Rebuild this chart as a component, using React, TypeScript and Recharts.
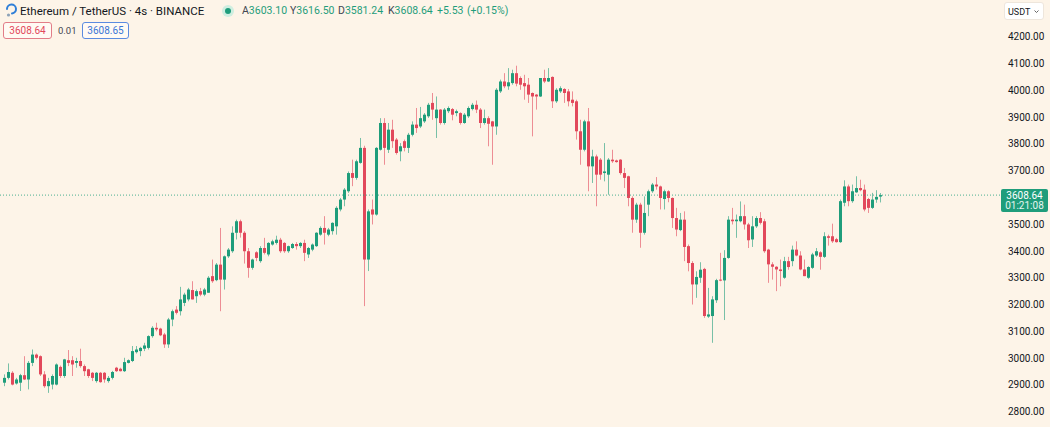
import React from "react";
import { ComposedChart, Bar, XAxis, YAxis, ReferenceLine } from "recharts";

// ---- data (open, high, low, close) ----
const SEG1: number[][] = [
  [2908, 2939, 2895, 2926], [2926, 2980, 2920, 2948], [2945, 2951, 2898, 2901], [2905, 2926, 2901, 2920],
  [2908, 2941, 2877, 2936], [2936, 3007, 2918, 2920], [2920, 2989, 2883, 2982], [2982, 3032, 2970, 3013],
  [3013, 3017, 2995, 3001], [3007, 3010, 2933, 2939], [2939, 2951, 2889, 2895], [2895, 2926, 2870, 2914],
  [2901, 2939, 2883, 2933], [2901, 2980, 2898, 2976], [2967, 2972, 2926, 2933], [2933, 2997, 2926, 2995],
  [2992, 3030, 2970, 2982], [2992, 3007, 2933, 2976], [2982, 3001, 2964, 2989], [2989, 3035, 2964, 2970],
  [2970, 2976, 2933, 2951], [2958, 2960, 2926, 2933], [2945, 2948, 2914, 2926], [2914, 2948, 2908, 2945],
  [2945, 2948, 2908, 2910], [2945, 2948, 2908, 2920], [2914, 2933, 2908, 2926], [2926, 2952, 2920, 2948],
  [2964, 2967, 2948, 2951], [2960, 2964, 2950, 2951], [2951, 3001, 2948, 2985], [2982, 2995, 2980, 2992],
  [2989, 3045, 2985, 3026], [3022, 3045, 3017, 3032], [3026, 3042, 3007, 3038], [3035, 3057, 3026, 3047],
  [3038, 3085, 3032, 3082], [3082, 3119, 3076, 3113], [3113, 3132, 3100, 3107], [3110, 3113, 3082, 3085],
  [3088, 3094, 3038, 3051], [3051, 3150, 3038, 3144], [3144, 3181, 3119, 3175], [3181, 3194, 3163, 3169],
  [3175, 3266, 3159, 3219], [3206, 3244, 3194, 3237], [3219, 3262, 3212, 3256], [3254, 3287, 3219, 3219],
  [3231, 3256, 3206, 3250], [3250, 3262, 3231, 3237], [3237, 3262, 3231, 3256], [3244, 3306, 3244, 3300],
  [3306, 3368, 3281, 3287], [3291, 3355, 3287, 3349], [3349, 3486, 3175, 3293], [3293, 3383, 3256, 3380],
];
const SEG2: number[][] = [
  [3380, 3411, 3374, 3405], [3399, 3492, 3393, 3468], [3468, 3517, 3443, 3511], [3511, 3517, 3450, 3468],
  [3468, 3474, 3353, 3399], [3399, 3411, 3300, 3337], [3337, 3371, 3330, 3368], [3395, 3399, 3362, 3374],
  [3362, 3418, 3356, 3411], [3411, 3449, 3387, 3393], [3387, 3433, 3380, 3430], [3424, 3442, 3420, 3436],
  [3430, 3457, 3424, 3442], [3442, 3449, 3393, 3399], [3430, 3433, 3393, 3399], [3399, 3420, 3393, 3418],
  [3411, 3430, 3408, 3426], [3426, 3433, 3405, 3418], [3418, 3433, 3411, 3430], [3430, 3442, 3362, 3393],
  [3387, 3415, 3374, 3411], [3405, 3428, 3399, 3424], [3418, 3470, 3415, 3468], [3461, 3492, 3457, 3486],
  [3486, 3530, 3424, 3468], [3461, 3486, 3455, 3480], [3474, 3507, 3461, 3505], [3492, 3567, 3461, 3561],
  [3555, 3598, 3548, 3592], [3592, 3635, 3567, 3629], [3623, 3697, 3617, 3691], [3691, 3741, 3642, 3673],
  [3673, 3741, 3666, 3735], [3729, 3822, 3726, 3785], [3785, 3793, 3194, 3368], [3368, 3555, 3325, 3548],
  [3555, 3592, 3499, 3536], [3536, 3788, 3532, 3785], [3778, 3896, 3775, 3878], [3878, 3896, 3722, 3785],
  [3778, 3878, 3766, 3853], [3853, 3890, 3785, 3810], [3816, 3822, 3760, 3766], [3772, 3803, 3735, 3791],
  [3810, 3816, 3772, 3785], [3785, 3841, 3766, 3834], [3834, 3884, 3828, 3872], [3872, 3934, 3841, 3859],
  [3865, 3938, 3859, 3896], [3884, 3915, 3878, 3909], [3903, 3953, 3897, 3946], [3953, 3990, 3890, 3928],
  [3896, 3977, 3822, 3928], [3928, 3930, 3872, 3878],
];
const SEG3: number[][] = [
  [3878, 3934, 3872, 3928], [3922, 3940, 3915, 3934], [3930, 3934, 3888, 3909], [3915, 3928, 3903, 3922],
  [3915, 3918, 3872, 3878], [3878, 3915, 3875, 3909], [3903, 3940, 3897, 3934], [3930, 3953, 3925, 3946],
  [3946, 3962, 3915, 3928], [3928, 3934, 3859, 3878], [3878, 3928, 3872, 3896], [3896, 3903, 3791, 3875],
  [3884, 3886, 3722, 3865], [3865, 4008, 3834, 4002], [3996, 4040, 3990, 4033], [4033, 4064, 4008, 4015],
  [4015, 4083, 4002, 4030], [4027, 4077, 4021, 4064], [4064, 4092, 4015, 4025], [4046, 4052, 4002, 4021],
  [4027, 4058, 3965, 4015], [4021, 4046, 3953, 3984], [3990, 3992, 3828, 3977], [3984, 3986, 3928, 3977],
  [3977, 4046, 3975, 4046], [4046, 4077, 4027, 4033], [4033, 4083, 4031, 4046], [4050, 4052, 3934, 3959],
  [3959, 4008, 3953, 4002], [3996, 4015, 3990, 4008], [4005, 4008, 3953, 3990], [3996, 4005, 3940, 3959],
  [3965, 3996, 3940, 3953], [3959, 3965, 3816, 3847], [3847, 3890, 3722, 3778], [3778, 3890, 3772, 3884],
  [3884, 3934, 3623, 3716], [3716, 3778, 3654, 3753], [3753, 3760, 3567, 3685], [3741, 3747, 3666, 3685],
  [3691, 3803, 3660, 3697], [3685, 3747, 3610, 3741], [3741, 3778, 3729, 3735], [3738, 3741, 3730, 3732],
  [3741, 3743, 3685, 3691], [3691, 3710, 3635, 3673], [3679, 3681, 3567, 3598], [3598, 3604, 3468, 3517],
  [3517, 3580, 3505, 3573], [3573, 3580, 3412, 3468], [3468, 3604, 3461, 3542], [3573, 3629, 3530, 3623],
  [3623, 3654, 3617, 3648], [3648, 3676, 3629, 3641], [3641, 3644, 3555, 3598],
];
const SEG4: number[][] = [
  [3594, 3629, 3555, 3623], [3623, 3627, 3582, 3598], [3598, 3600, 3486, 3523], [3523, 3561, 3455, 3480],
  [3478, 3542, 3474, 3517], [3517, 3548, 3362, 3415], [3418, 3424, 3324, 3355], [3355, 3362, 3200, 3275],
  [3275, 3324, 3225, 3303], [3300, 3358, 3281, 3330], [3333, 3337, 3150, 3157], [3155, 3262, 3150, 3163],
  [3157, 3231, 3057, 3219], [3216, 3296, 3206, 3291], [3293, 3393, 3287, 3290], [3290, 3403, 3142, 3374],
  [3374, 3530, 3371, 3517], [3517, 3561, 3499, 3511], [3511, 3536, 3449, 3517], [3511, 3585, 3507, 3530],
  [3530, 3573, 3480, 3499], [3499, 3505, 3411, 3440], [3443, 3530, 3415, 3492], [3492, 3530, 3486, 3523],
  [3523, 3545, 3499, 3505], [3511, 3520, 3393, 3399], [3405, 3408, 3281, 3350], [3350, 3358, 3293, 3341],
  [3341, 3343, 3250, 3331], [3331, 3368, 3268, 3325], [3300, 3378, 3296, 3362], [3362, 3378, 3330, 3340],
  [3362, 3420, 3343, 3405], [3405, 3436, 3380, 3383], [3383, 3399, 3328, 3331], [3331, 3368, 3306, 3306],
  [3300, 3343, 3296, 3340], [3337, 3393, 3333, 3387], [3383, 3411, 3378, 3399], [3395, 3399, 3330, 3378],
  [3378, 3470, 3374, 3455], [3455, 3461, 3420, 3449], [3455, 3502, 3430, 3436], [3444, 3449, 3431, 3433],
  [3433, 3592, 3430, 3586], [3580, 3664, 3567, 3641], [3641, 3648, 3567, 3586], [3586, 3648, 3580, 3623],
  [3619, 3679, 3617, 3635], [3635, 3666, 3623, 3627], [3629, 3648, 3548, 3555], [3594, 3598, 3542, 3561],
  [3561, 3617, 3557, 3592], [3592, 3627, 3580, 3602], [3603.1, 3616.5, 3581.24, 3608.64],
];

// 3600.00 is hidden behind the last-price label in the reference
const Y_TICKS = [2800, 2900, 3000, 3100, 3200, 3300, 3400, 3500, 3700, 3800, 3900, 4000, 4100, 4200];
const Y_DOMAIN = [2750, 4300];
const FUTURE_SLOTS = 29;
const SYMBOL = "Ethereum / TetherUS · 4s · BINANCE";
const OHLC_LABELS = [
  { k: "A", v: "3603.10", x: 242 },
  { k: "Y", v: "3616.50", x: 290 },
  { k: "D", v: "3581.24", x: 338 },
  { k: "K", v: "3608.64", x: 388 },
];
const CHANGE = "+5.53";
const CHANGE_PCT = "(+0.15%)";
const BID = "3608.64";
const SPREAD = "0.01";
const ASK = "3608.65";
const COUNTDOWN = "01:21:08";
const CURRENCY = "USDT";

// ---- styles ----
const W = 1050;
const H = 427;
const BG = "#fdf4e8";
const UP = "#1f9d7b";
const DOWN = "#e2485b";
const TEXT = "#131722";
const FONT = "Roboto, 'Noto Sans', sans-serif";

const candles = [...SEG1, ...SEG2, ...SEG3, ...SEG4];
const LAST = candles[candles.length - 1][3];

const rows: any[] = candles
  .map((k, i) => ({ i, o: k[0], h: k[1], l: k[2], c: k[3], range: [k[2], k[1]] }))
  .concat(Array.from({ length: FUTURE_SLOTS }, (_, j) => ({ i: candles.length + j })));

function Candle(props: any) {
  const { x, y, width, height, payload } = props;
  if (!payload || payload.o == null || y == null || isNaN(y)) return <g />;
  const top = Math.min(y, y + height);
  const bot = Math.max(y, y + height);
  const { o, h, l, c } = payload;
  const toY = (v: number) => (h === l ? top : top + ((h - v) / (h - l)) * (bot - top));
  const cx = Math.round(x + width / 2);
  const col = c >= o ? UP : DOWN;
  const yo = toY(o);
  const yc = toY(c);
  const bTop = Math.min(yo, yc);
  const bH = Math.max(1, Math.abs(yo - yc));
  return (
    <g>
      <line x1={cx + 0.5} x2={cx + 0.5} y1={top} y2={bot} stroke={col} strokeOpacity={0.6} strokeWidth={1} />
      <rect x={cx - 1} y={bTop} width={3} height={bH} fill={col} />
    </g>
  );
}

function PriceLabel(props: any) {
  const vb = props.viewBox || {};
  const y = vb.y ?? 0;
  const x = (vb.x ?? 0) + (vb.width ?? 0) + 1;
  return (
    <g>
      <rect x={x} y={y - 6} width={47} height={23} rx={2} fill={UP} />
      <text x={x + 23.5} y={y + 3.5} textAnchor="middle" fill="#fff" fontSize={10} fontFamily={FONT}>
        {LAST.toFixed(2)}
      </text>
      <text x={x + 23.5} y={y + 14} textAnchor="middle" fill="#e6f5ef" fontSize={10} fontFamily={FONT}>
        {COUNTDOWN}
      </text>
    </g>
  );
}

export default function App() {
  return (
    <div
      style={{
        position: "absolute",
        left: 0,
        top: 0,
        width: W,
        height: H,
        background: BG,
        overflow: "hidden",
        fontFamily: FONT,
      }}
    >
      <ComposedChart width={W} height={H} data={rows} margin={{ top: 10, right: 0, bottom: 2, left: 0 }}>
        <XAxis dataKey="i" hide padding={{ left: 2, right: 2 }} />
        <YAxis
          orientation="right"
          type="number"
          domain={Y_DOMAIN}
          ticks={Y_TICKS}
          width={50}
          axisLine={false}
          tickLine={false}
          tickMargin={2}
          tick={{ fill: TEXT, fontSize: 10, fontFamily: FONT }}
          tickFormatter={(v: number) => v.toFixed(2)}
        />
        <ReferenceLine
          y={LAST}
          stroke={UP}
          strokeOpacity={0.8}
          strokeDasharray="1 2"
          label={(p: any) => <PriceLabel {...p} />}
        />
        <Bar dataKey="range" shape={(p: any) => <Candle {...p} />} isAnimationActive={false} />
      </ComposedChart>

      {/* header */}
      <svg style={{ position: "absolute", left: 4, top: 3 }} width={14} height={15}>
        <path d="M3 6 A4.5 4.5 0 1 1 8 10.5" fill="none" stroke="#2f7fd8" strokeWidth={2} strokeLinecap="round" />
        <circle cx={4.5} cy={12} r={1.6} fill="#8ea3b8" />
      </svg>
      <div style={{ position: "absolute", left: 20, top: 3, fontSize: 11.5, color: TEXT, lineHeight: "16px", whiteSpace: "nowrap" }}>
        {SYMBOL}
      </div>
      <svg style={{ position: "absolute", left: 221, top: 4 }} width={14} height={14}>
        <circle cx={7} cy={7} r={6} fill="#cfeee0" />
        <circle cx={7} cy={7} r={3} fill={UP} />
      </svg>
      {OHLC_LABELS.map((g) => (
        <div key={g.k} style={{ position: "absolute", left: g.x, top: 4, fontSize: 10.5, lineHeight: "14px", whiteSpace: "nowrap" }}>
          <span style={{ color: "#434651" }}>{g.k}</span>
          <span style={{ color: UP }}>{g.v}</span>
        </div>
      ))}
      <div style={{ position: "absolute", left: 437, top: 4, fontSize: 10.5, lineHeight: "14px", color: UP, whiteSpace: "nowrap" }}>
        {CHANGE}
      </div>
      <div style={{ position: "absolute", left: 467, top: 4, fontSize: 10.5, lineHeight: "14px", color: UP, whiteSpace: "nowrap" }}>
        {CHANGE_PCT}
      </div>

      <div
        style={{
          position: "absolute", left: 3, top: 22, width: 47, height: 15, border: "1px solid #e27d88", borderRadius: 3,
          color: DOWN, fontSize: 10, lineHeight: "15px", textAlign: "center", background: "#fffaf4",
        }}
      >
        {BID}
      </div>
      <div style={{ position: "absolute", left: 58, top: 23, fontSize: 9.5, lineHeight: "15px", color: "#434651" }}>{SPREAD}</div>
      <div
        style={{
          position: "absolute", left: 82, top: 22, width: 45, height: 15, border: "1px solid #5b8be0", borderRadius: 3,
          color: "#3a76d6", fontSize: 10, lineHeight: "15px", textAlign: "center", background: "#fffaf4",
        }}
      >
        {ASK}
      </div>

      <div
        style={{
          position: "absolute", left: 1004, top: 2, width: 40, height: 18, background: "#ffffff", border: "1px solid #eee6dc",
          borderRadius: 3, fontSize: 9, lineHeight: "18px", color: TEXT, boxSizing: "border-box", paddingLeft: 3,
        }}
      >
        {CURRENCY}
        <svg style={{ position: "absolute", right: 4, top: 7 }} width={5} height={4}>
          <path d="M0.5 0.5 L2.5 2.5 L4.5 0.5" fill="none" stroke="#555" strokeWidth={0.9} />
        </svg>
      </div>
    </div>
  );
}
